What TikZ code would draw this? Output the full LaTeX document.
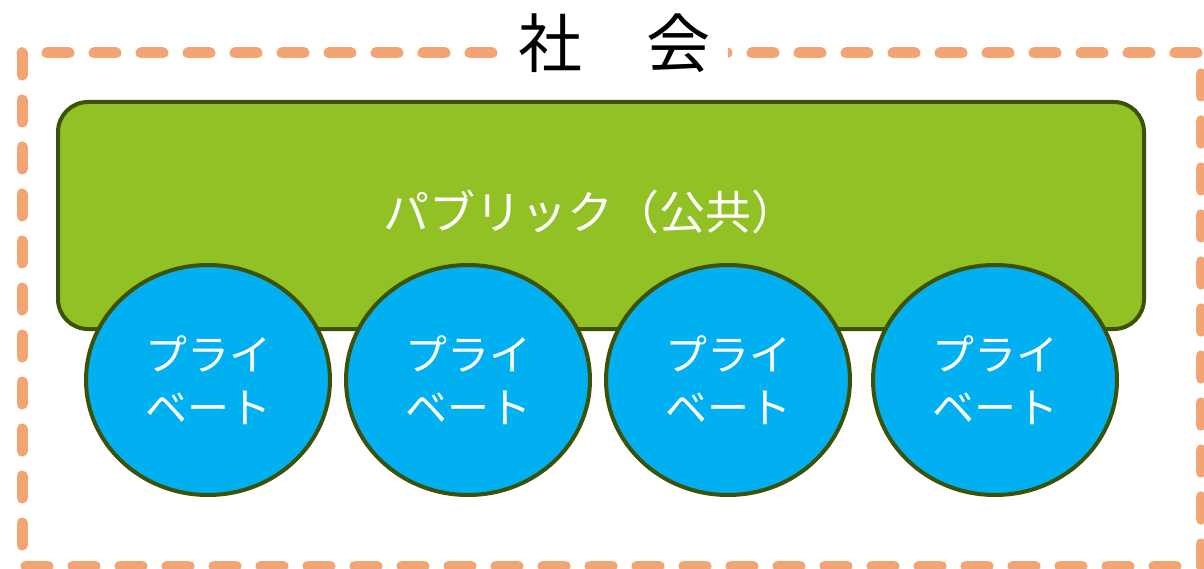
\documentclass[tikz,border=0pt]{standalone}
\usepackage{fontspec}
\setmainfont{Noto Sans CJK JP}
\definecolor{frameor}{HTML}{F2A573}
\definecolor{pubgreen}{HTML}{92C125}
\definecolor{darkolive}{HTML}{3B5208}
\definecolor{privblue}{HTML}{00B0F0}
\tikzset{
  framebox/.style={draw=frameor, line width=11pt, line cap=round, dash pattern=on 22pt off 25pt},
  pubbox/.style={draw=darkolive, fill=pubgreen, line width=4pt, rounded corners=30pt},
  privcircle/.style={ellipse, draw=darkolive, fill=privblue, line width=4pt, minimum width=244pt, minimum height=230pt, inner sep=0pt, text=white, font=\fontsize{42}{53}\selectfont, align=center},
  titletext/.style={fill=white, font=\fontsize{64}{70}\selectfont, inner xsep=18pt, inner ysep=0pt, text=black}
}
\usetikzlibrary{shapes.geometric}
\begin{document}
\begin{tikzpicture}[x=1pt,y=-1pt]
\useasboundingbox (0,0) rectangle (1204,569);
\draw[framebox] (22,53) rectangle (1201,566);
\node[titletext] (title) at (614,43) {社　会};
\draw[pubbox] (58,102) rectangle (1144,329);
\node[text=white, font=\fontsize{46}{50}\selectfont] (pub) at (590,212) {パブリック（公共）};
\node[privcircle] (p1) at (208,380) {プライ\\ベート};
\node[privcircle] (p2) at (468,380) {プライ\\ベート};
\node[privcircle] (p3) at (728,380) {プライ\\ベート};
\node[privcircle] (p4) at (995,380) {プライ\\ベート};
\end{tikzpicture}
\end{document}
